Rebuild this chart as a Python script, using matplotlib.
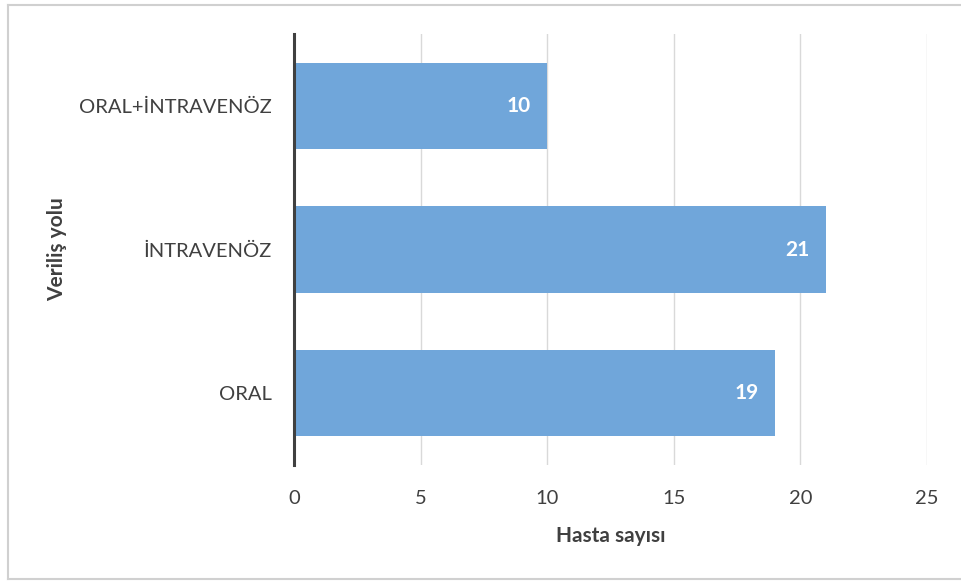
import matplotlib
matplotlib.use("Agg")
import matplotlib.pyplot as plt
from matplotlib.lines import Line2D

# data
routes = ["ORAL", "İNTRAVENÖZ", "ORAL+İNTRAVENÖZ"]
counts = [19, 21, 10]
xticks = [0, 5, 10, 15, 20, 25]

plt.rcParams["font.family"] = ["Lato", "DejaVu Sans"]

fig = plt.figure(figsize=(9.61, 5.81), dpi=100)
ax = fig.add_axes([294 / 961, 1 - 465 / 581, 633 / 961, 431 / 581])

ax.barh(range(len(routes)), counts, height=0.6, color="#70A6DA", zorder=2)

for i, v in enumerate(counts):
    ax.annotate(str(v), xy=(v, i), xytext=(-12, 0), textcoords="offset points",
                ha="right", va="center", color="white", fontsize=15,
                fontweight="bold", zorder=3)

ax.set_xlim(0, 25)
ax.set_ylim(-0.5, len(routes) - 0.5)
ax.set_xticks(xticks)
ax.set_yticks(range(len(routes)))
ax.set_yticklabels(routes)
ax.tick_params(axis="both", length=0, labelsize=14.5, colors="#404040")
ax.tick_params(axis="x", pad=18)
ax.tick_params(axis="y", pad=16)

ax.grid(axis="x", color="#d9d9d9", linewidth=1, zorder=0)
for s in ["top", "right", "bottom"]:
    ax.spines[s].set_visible(False)
ax.spines["left"].set_color("#404040")
ax.spines["left"].set_linewidth(2.2)
ax.spines["left"].set_zorder(4)

ax.set_xlabel("Hasta sayısı", fontsize=15, fontweight="bold", color="#404040", labelpad=14)
ax.set_ylabel("Veriliş yolu", fontsize=15, fontweight="bold", color="#404040")
ax.yaxis.set_label_coords(-227 / 633, 0.5)

# outer frame of the chart
bc = "#d0d0d0"
fig.add_artist(Line2D([8 / 961, 1], [1 - 5 / 581] * 2, color=bc, lw=1.5))
fig.add_artist(Line2D([8 / 961, 1], [1 - 579 / 581] * 2, color=bc, lw=1.5))
fig.add_artist(Line2D([8 / 961] * 2, [1 - 5 / 581, 1 - 579 / 581], color=bc, lw=1.5))

fig.savefig("out.png", dpi=100)
